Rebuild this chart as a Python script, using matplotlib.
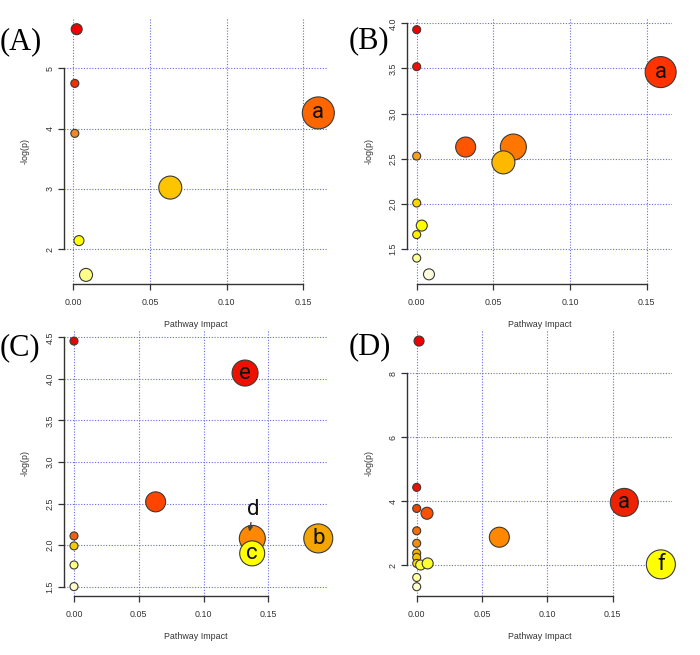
import matplotlib
matplotlib.use("Agg")
import matplotlib.pyplot as plt
from matplotlib.ticker import FixedLocator, FixedFormatter

# ---------------- data ----------------
# Panel A
a_x = [0.0022, 0.0010, 0.0010, 0.0037, 0.0083, 0.0632, 0.1597]
a_y = [5.65, 4.75, 3.92, 2.14, 1.57, 3.02, 4.26]
a_d = [11, 8, 8, 10, 13, 23, 32]
a_c = ["#EE0000", "#EE3300", "#F08A20", "#FFFF00", "#FFFF88", "#FFC400", "#FF6600"]
a_lab = ["", "", "", "", "", "", "a"]

# Panel B
b_x = [0.0, 0.0, 0.0, 0.0, 0.0033, 0.0, 0.0, 0.0080, 0.0319, 0.0630, 0.0565, 0.1590]
b_y = [3.93, 3.52, 2.53, 2.01, 1.76, 1.66, 1.40, 1.22, 2.63, 2.63, 2.46, 3.46]
b_d = [8, 8, 8, 8, 11, 8, 8, 11, 20, 26, 23, 31]
b_c = ["#EE0000", "#EE1100", "#F5A020", "#F8D800", "#FFFF00", "#FFF000",
       "#FFFF99", "#FFFFE0", "#FF5500", "#FF7700", "#FFB800", "#FF3300"]
b_lab = [""] * 11 + ["a"]

# Panel C
c_x = [0.0, 0.0, 0.0, 0.0, 0.0, 0.0630, 0.1320, 0.1376, 0.1375, 0.1885]
c_y = [4.455, 2.11, 1.99, 1.76, 1.50, 2.52, 4.07, 2.08, 1.90, 2.08]
c_d = [8, 8, 8, 8, 8, 20, 26, 26, 25, 29]
c_c = ["#EE0000", "#F06010", "#F8C800", "#FFFF80", "#FFFFCC", "#FF4400",
       "#EE1100", "#FF8800", "#FFFF00", "#F5A500"]
c_lab = ["", "", "", "", "", "", "e", "", "c", "b"]

# Panel D
d_x = [0.0018, 0.0, 0.0, 0.0079, 0.0, 0.0, 0.0, 0.0, 0.0, 0.0030, 0.0084,
       0.0, 0.0, 0.0633, 0.1590, 0.1870]
d_y = [9.01, 4.43, 3.77, 3.62, 3.07, 2.68, 2.37, 2.24, 2.05, 2.00, 2.05,
       1.61, 1.32, 2.87, 3.96, 2.02]
d_d = [10, 8, 8, 12, 8, 8, 8, 8, 8, 10, 11, 8, 8, 20, 28, 29]
d_c = ["#EE0000", "#EE1100", "#EE4400", "#FF5000", "#F07010", "#F09010",
       "#F8B000", "#F8C000", "#FFE000", "#FFFF40", "#FFFF30", "#FFFFA0",
       "#FFFFD0", "#FF8800", "#EE2200", "#FFFF00"]
d_lab = [""] * 14 + ["a", "f"]

x_ticks = [0.0, 0.05, 0.10, 0.15]
x_ticklabels = ["0.00", "0.05", "0.10", "0.15"]

panels = [
    dict(tag="(A)", x=a_x, y=a_y, d=a_d, c=a_c, lab=a_lab,
         yt=[2, 3, 4, 5], ytl=["2", "3", "4", "5"],
         xlim=(-0.00606, 0.1660), ylim=(1.419, 5.836),
         box=(64, 18, 328, 284), tagpos=(0, 42)),
    dict(tag="(B)", x=b_x, y=b_y, d=b_d, c=b_c, lab=b_lab,
         yt=[1.5, 2.0, 2.5, 3.0, 3.5, 4.0], ytl=["1.5", "2.0", "2.5", "3.0", "3.5", "4.0"],
         xlim=(-0.00613, 0.1662), ylim=(1.113, 4.048),
         box=(407.3, 19, 671.7, 284), tagpos=(349, 41)),
    dict(tag="(C)", x=c_x, y=c_y, d=c_d, c=c_c, lab=c_lab,
         yt=[1.5, 2.0, 2.5, 3.0, 3.5, 4.0, 4.5],
         ytl=["1.5", "2.0", "2.5", "3.0", "3.5", "4.0", "4.5"],
         xlim=(-0.00772, 0.196), ylim=(1.387, 4.588),
         box=(64, 330, 328, 596), tagpos=(0, 348)),
    dict(tag="(D)", x=d_x, y=d_y, d=d_d, c=d_c, lab=d_lab,
         yt=[2, 4, 6, 8], ytl=["2", "4", "6", "8"],
         xlim=(-0.0072, 0.1953), ylim=(1.03, 9.356),
         box=(407.3, 330, 671.7, 596), tagpos=(349, 347)),
]

W, H = 700, 655
fig = plt.figure(figsize=(W / 100, H / 100), dpi=100)

tick_font = dict(family=["Liberation Sans", "DejaVu Sans"], size=6.4)
label_family = ["Roboto", "DejaVu Sans"]
axis_col = "#333333"

for p in panels:
    l, t, r, b = p["box"]
    ax = fig.add_axes([l / W, 1 - b / H, (r - l) / W, (b - t) / H])
    ax.set_xlim(*p["xlim"])
    ax.set_ylim(*p["ylim"])
    ax.set_facecolor("white")
    for s in ["top", "right"]:
        ax.spines[s].set_visible(False)
    ax.spines["left"].set_bounds(p["yt"][0], p["yt"][-1])
    ax.spines["bottom"].set_bounds(x_ticks[0], x_ticks[-1])
    for s in ["left", "bottom"]:
        ax.spines[s].set_color(axis_col)
        ax.spines[s].set_linewidth(1.0)
    ax.xaxis.set_major_locator(FixedLocator(x_ticks))
    ax.xaxis.set_major_formatter(FixedFormatter(x_ticklabels))
    ax.yaxis.set_major_locator(FixedLocator(p["yt"]))
    ax.yaxis.set_major_formatter(FixedFormatter(p["ytl"]))
    ax.tick_params(axis="both", length=4, width=0.9, color=axis_col,
                   labelcolor="#333333", direction="out")
    ax.tick_params(axis="x", pad=6)
    ax.tick_params(axis="y", pad=3)
    for lbl in ax.get_xticklabels():
        lbl.set_fontfamily(tick_font["family"])
        lbl.set_fontsize(tick_font["size"])
    for lbl in ax.get_yticklabels():
        lbl.set_fontfamily(tick_font["family"])
        lbl.set_fontsize(tick_font["size"])
        lbl.set_rotation(90)
        lbl.set_va("center")
    ax.grid(True, color="#6a6ae6", linestyle=(0, (1, 1.5)), linewidth=0.8)
    ax.set_axisbelow(True)

    hpx = b - t
    wpx = r - l
    ax.set_xlabel("Pathway Impact", fontfamily=tick_font["family"], fontsize=6.4,
                  color="#333333")
    ax.xaxis.set_label_coords(0.5, -36 / hpx)
    ax.set_ylabel("-log(p)", fontfamily=tick_font["family"], fontsize=6.4,
                  color="#333333")
    ax.yaxis.set_label_coords(-34 / wpx, 0.5)

    sizes = [(dd * 0.72) ** 2 for dd in p["d"]]
    ax.scatter(p["x"], p["y"], s=sizes, c=p["c"], edgecolors="#3a3a3a",
               linewidths=0.8, zorder=3, clip_on=False)
    for xi, yi, lab in zip(p["x"], p["y"], p["lab"]):
        if lab:
            ax.text(xi, yi, lab, ha="center", va="center", fontsize=16,
                    family=label_family, fontweight="normal", color="#111111",
                    zorder=4)

    if p["tag"] == "(C)":
        # label "d" with arrow pointing to the bubble below
        i = 7
        ax.annotate("d", xy=(p["x"][i] - 0.0023, p["y"][i] + 0.08),
                    xytext=(p["x"][i] + 0.0008, p["y"][i] + 0.35),
                    ha="center", va="center", fontsize=16,
                    family=label_family, fontweight="normal", color="#111111",
                    arrowprops=dict(arrowstyle="-|>", color="#444444", lw=1.0,
                                    shrinkA=7, shrinkB=0, mutation_scale=7),
                    zorder=5)

    tx, ty = p["tagpos"]
    fig.text(tx / W, 1 - ty / H, p["tag"], ha="left", va="center",
             fontsize=22, family=["Liberation Serif", "DejaVu Serif"], color="black")

fig.savefig("out.png", dpi=100)
